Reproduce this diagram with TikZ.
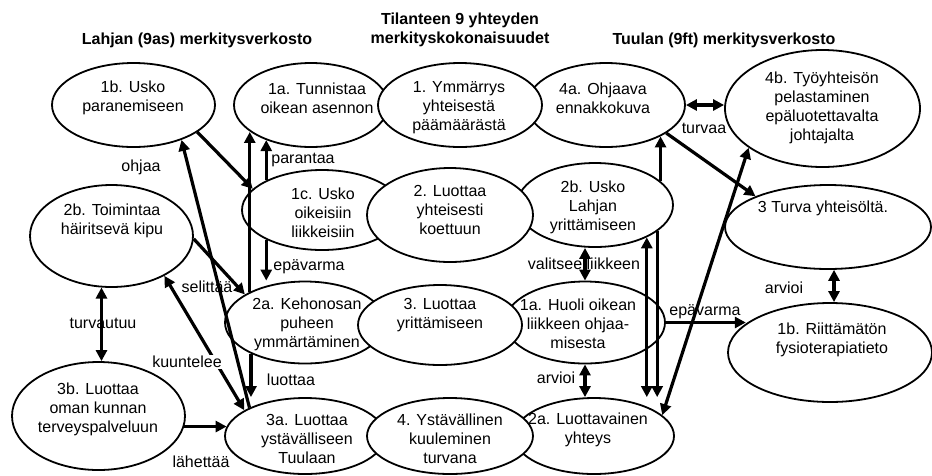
\documentclass[tikz,border=0pt]{standalone}
\usepackage{fontspec}
\setmainfont{Liberation Sans}
\usetikzlibrary{arrows.meta, shapes.geometric}

\begin{document}
\begin{tikzpicture}[
  x=1pt,
  y=-1pt,
  nodo/.style={ellipse, draw, line width=1.8pt, fill=white, inner sep=0pt},
  testo/.style={align=center, inner sep=0pt, font=\fontsize{16}{19}\selectfont},
  titolo/.style={align=center, inner sep=0pt, font=\fontsize{16}{19}\selectfont\bfseries},
  etich/.style={inner sep=1pt, font=\fontsize{16}{19}\selectfont},
  freccia/.style={line width=3.2pt, -{Triangle[length=11pt, width=11pt]}},
  doppia/.style={line width=3.2pt, {Triangle[length=11pt, width=11pt]}-{Triangle[length=11pt, width=11pt]}}
  ]
    \useasboundingbox (0,0) rectangle (932,475);

    % Titles
    \node[titolo] (tit-lahja) at (197,40) {Lahjan (9as) merkitysverkosto};
    \node[titolo] (tit-yht) at (460,29.5) {Tilanteen 9 yhteyden\\merkityskokonaisuudet};
    \node[titolo] (tit-tuula) at (724,40) {Tuulan (9ft) merkitysverkosto};

%%%%%%%%%%  Lahja
    \node[nodo, minimum width=163pt, minimum height=84pt] (usko) at (133.5,105) {};
    \node[nodo, minimum width=163pt, minimum height=102pt] (kipu) at (111.5,236) {};
    \node[nodo, minimum width=173pt, minimum height=108pt] (kunta) at (98.5,416) {};
    \node[nodo, minimum width=154pt, minimum height=84pt] (tunn) at (311,105) {};
    \node[nodo, minimum width=160pt, minimum height=80pt] (oik) at (322,210) {};
    \node[nodo, minimum width=160pt, minimum height=82pt] (keho) at (305,322.5) {};
    \node[nodo, minimum width=160pt, minimum height=76pt] (tuula) at (305,436) {};

%%%%%%%%%%  Tuula
    \node[nodo, minimum width=158pt, minimum height=84pt] (ohj) at (606,105) {};
    \node[nodo, minimum width=195pt, minimum height=117pt] (tyo) at (822.5,108.5) {};
    \node[nodo, minimum width=156pt, minimum height=84pt] (lahj) at (595,205) {};
    \node[nodo, minimum width=206pt, minimum height=84pt] (turva) at (828,227) {};
    \node[nodo, minimum width=160pt, minimum height=82pt] (huoli) at (585,322.5) {};
    \node[nodo, minimum width=204pt, minimum height=99pt] (riit) at (830,352.5) {};
    \node[nodo, minimum width=160pt, minimum height=76pt] (yht) at (594,436) {};

%%%%%%%%%%  yhteiset (middle column on top)
    \node[nodo, minimum width=164pt, minimum height=84pt] (ymm) at (460,105) {};
    \node[nodo, minimum width=166pt, minimum height=94pt] (luo2) at (450,215) {};
    \node[nodo, minimum width=164pt, minimum height=80pt] (yrit) at (440,325) {};
    \node[nodo, minimum width=166pt, minimum height=76pt] (kuul) at (450,436) {};

% texts
    \node[testo] (t-usko) at (133,98) {1b. Usko\\paranemiseen};
    \node[testo] (t-kipu) at (112,221) {2b. Toimintaa\\häiritsevä kipu};
    \node[testo] (t-kunta) at (98,409) {3b. Luottaa\\oman kunnan\\terveyspalveluun};
    \node[testo] (t-tunn) at (317,98) {1a. Tunnistaa\\oikean asennon};
    \node[testo] (t-oik) at (323,213) {1c. Usko\\oikeisiin\\liikkeisiin};
    \node[testo] (t-keho) at (307,324) {2a. Kehonosan\\puheen\\ymmärtäminen};
    \node[testo] (t-tuula) at (307,439) {3a. Luottaa\\ystävälliseen\\Tuulaan};
    \node[testo] (t-ymm) at (459,108) {1. Ymmärrys\\yhteisestä\\päämäärästä};
    \node[testo] (t-luo2) at (450,210) {2. Luottaa\\yhteisesti\\koettuun};
    \node[testo] (t-yrit) at (440,315) {3. Luottaa\\yrittämiseen};
    \node[testo] (t-kuul) at (450,439) {4. Ystävällinen\\kuuleminen\\turvana};
    \node[testo] (t-ohj) at (603,98) {4a. Ohjaava\\ennakkokuva};
    \node[testo] (t-tyo) at (822,107.5) {4b. Työyhteisön\\pelastaminen\\epäluotettavalta\\johtajalta};
    \node[testo] (t-lahj) at (593,207) {2b. Usko\\Lahjan\\yrittämiseen};
    \node[testo] (t-turva) at (823,208) {3 Turva yhteisöltä.};
    \node[testo] (t-huoli) at (578,324) {1a. Huoli oikean\\liikkeen ohjaa-\\misesta};
    \node[testo] (t-riit) at (832,340) {1b. Riittämätön\\fysioterapiatieto};
    \node[testo] (t-yht) at (588,430) {2a. Luottavainen\\yhteys};

% arrows Lahja
    \draw[freccia] (usko.-23) -- (oik.163);
    \draw[freccia] (keho.151) -- (keho.151 |- tunn.-156);
    \draw[freccia] (oik.152) -- (oik.152 |- tunn.-142);
    \draw[freccia] (oik.-152) -- (oik.-152 |- keho.north);
    \draw[freccia] (keho.-150) -- (keho.-150 |- tuula.north);
    \draw[freccia] (kipu.-2) -- (keho.155);
    \draw[freccia] (tuula.153) -- (usko.-36);
    \draw[doppia] (kipu.-37) -- (tuula.157);
    \draw[doppia] (kipu.-101) -- (kipu.-101 |- kunta.north);
    \draw[freccia] (kunta.-7) -- (kunta.-7 -| tuula.173);

% arrows Tuula
    \draw[doppia] (ohj.east) -- (ohj.east -| tyo.west);
    \draw[freccia] (ohj.-25) -- (turva.157);
    \draw[freccia] (lahj.20) -- (lahj.20 |- ohj.-30);
    \draw[freccia] (lahj.-23) -- (lahj.-23 |- yht.north);
    \draw[doppia] (lahj.-32) -- (lahj.-32 |- yht.north);
    \draw[doppia] (tyo.-152) -- (yht.17);
    \draw[freccia] (huoli.east) -- (huoli.east -| riit.161);
    \draw[doppia] (turva.-82) -- (turva.-82 |- riit.north);
    \draw[doppia] (huoli.south) -- (huoli.south |- yht.north);
    \draw[doppia] (huoli.north) -- (huoli.north |- lahj.south);

%labels
    \node[etich] (l-ohjaa) at (141,167) {ohjaa};
    \node[etich] (l-parantaa) at (303,160) {parantaa};
    \node[etich] (l-epav1) at (309,267) {epävarma};
    \node[etich] (l-selittaa) at (207,287) {selittää};
    \node[etich] (l-turvautuu) at (103,323) {turvautuu};
    \node[etich, fill=white] (l-kuuntelee) at (187,362) {kuuntelee};
    \node[etich] (l-luottaa) at (291,380) {luottaa};
    \node[etich] (l-lahettaa) at (201,462) {lähettää};
    \node[etich] (l-turvaa) at (704,128) {turvaa};
    \node[etich] (l-valitsee) at (584,264) {valitsee liikkeen};
    \node[etich] (l-epav2) at (705,312) {epävarma};
    \node[etich] (l-arvioi1) at (784,288) {arvioi};
    \node[etich] (l-arvioi2) at (556,378) {arvioi};

\end{tikzpicture}
\end{document}
